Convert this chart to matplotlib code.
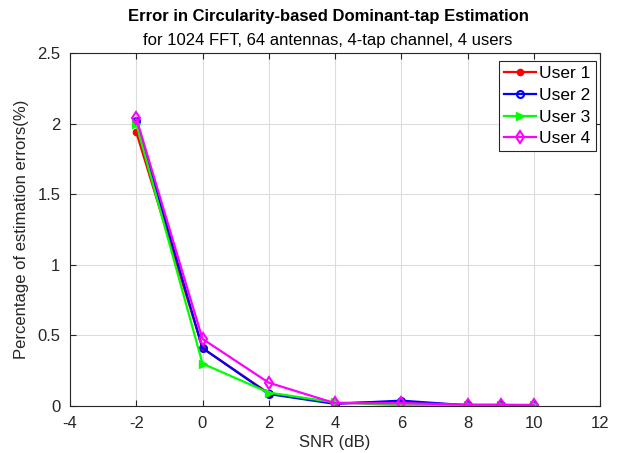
import matplotlib
matplotlib.use("Agg")
import matplotlib.pyplot as plt

plt.rcParams['font.family'] = ['Liberation Sans', 'DejaVu Sans']
plt.rcParams['axes.unicode_minus'] = False

snr = [-2, 0, 2, 4, 6, 8, 9, 10]
user1 = [1.94, 0.41, 0.09, 0.02, 0.03, 0.005, 0.005, 0.0]
user2 = [2.02, 0.41, 0.085, 0.015, 0.038, 0.005, 0.005, 0.0]
user3 = [2.00, 0.30, 0.095, 0.025, 0.005, 0.005, 0.005, 0.01]
user4 = [2.04, 0.475, 0.165, 0.02, 0.02, 0.01, 0.01, 0.005]
labels = ['User 1', 'User 2', 'User 3', 'User 4']

fig = plt.figure(figsize=(6.2, 4.53), dpi=100)
ax = fig.add_axes([70/620, 1-406/453, 530/620, 353/453])

ax.plot(snr, user1, color='#ff0000', marker='.', markersize=9, lw=1.6, label=labels[0])
ax.plot(snr, user2, color='#0000ff', marker='o', markersize=5, mfc='none', mew=1.5, lw=1.6, label=labels[1])
ax.plot(snr, user3, color='#00ff00', marker='>', markersize=6, lw=1.6, label=labels[2])
ax.plot(snr, user4, color='#ff00ff', marker='d', markersize=6, mfc='none', mew=1.5, lw=1.6, label=labels[3])

ax.set_xlim(-4, 12)
ax.set_ylim(0, 2.5)
ax.set_xticks(range(-4, 13, 2))
ax.set_xticklabels([str(v) for v in range(-4, 13, 2)])
ax.set_yticks([0, 0.5, 1, 1.5, 2, 2.5])
ax.set_yticklabels(['0', '0.5', '1', '1.5', '2', '2.5'])
ax.grid(True, color='#dcdcdc', lw=0.8)
ax.set_axisbelow(True)
ax.tick_params(direction='in', labelsize=12, colors='#262626', length=4, top=True, right=True)
ax.tick_params(axis='x', pad=7)
ax.tick_params(axis='y', pad=7)
for s in ax.spines.values():
    s.set_color('#262626')
    s.set_linewidth(0.8)

ax.set_xlabel('SNR (dB)', fontsize=12, color='#262626', labelpad=3)
ax.set_ylabel('Percentage of estimation errors(%)', fontsize=12, color='#262626', labelpad=6)
fig.text(328/620, 1-17/453, 'Error in Circularity-based Dominant-tap Estimation',
         ha='center', va='center', fontsize=12, fontweight='bold', color='black')
fig.text(328/620, 1-40/453, 'for 1024 FFT, 64 antennas, 4-tap channel, 4 users',
         ha='center', va='center', fontsize=12, color='black')

leg = ax.legend(loc='upper right', bbox_to_anchor=(0.9925, 0.977), fontsize=12.5,
                fancybox=False, framealpha=1, edgecolor='#262626', borderaxespad=0,
                handlelength=1.85, borderpad=0.3, labelspacing=0.37, handletextpad=0.2)
leg.get_frame().set_linewidth(0.8)

fig.savefig('out.png', dpi=100)
